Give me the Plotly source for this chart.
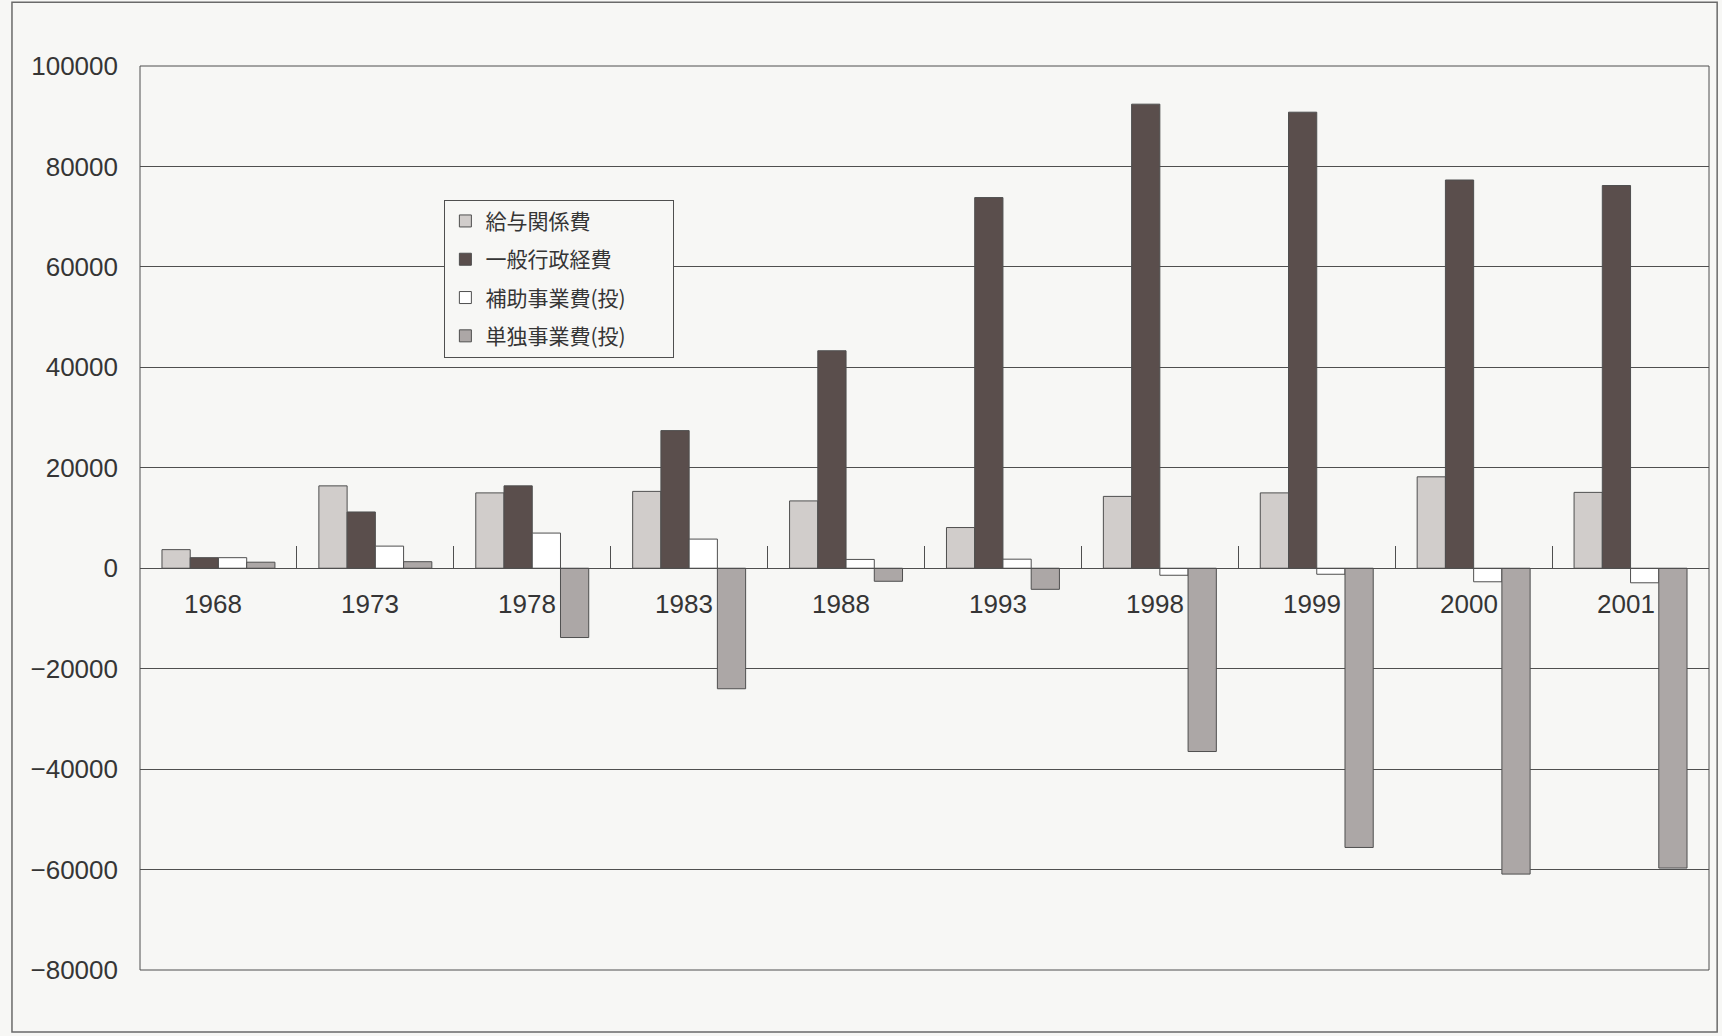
import plotly.graph_objects as go

# ---- data ----
years = ["1968", "1973", "1978", "1983", "1988", "1993", "1998", "1999", "2000", "2001"]
kyuyo = [3700, 16400, 15000, 15300, 13400, 8100, 14300, 15000, 18200, 15100]          # 給与関係費
ippan = [2100, 11200, 16400, 27400, 43300, 73800, 92400, 90800, 77300, 76200]         # 一般行政経費
hojo = [2100, 4400, 7000, 5800, 1750, 1800, -1400, -1200, -2700, -2900]               # 補助事業費(投)
tandoku = [1200, 1300, -13800, -24000, -2600, -4200, -36500, -55600, -60900, -59700]  # 単独事業費(投)

series_names = ["給与関係費", "一般行政経費", "補助事業費(投)", "単独事業費(投)"]
y_ticks = [-80000, -60000, -40000, -20000, 0, 20000, 40000, 60000, 80000, 100000]

BG = "#f7f7f5"
EDGE = "#4f4f4f"
TXT = "#353535"
colors = ["#d1cdcb", "#5a4e4c", "#ffffff", "#aca7a6"]
PAD = "\u3000\u3000"  # invisible trailing room so the legend box is as wide as the original

fig = go.Figure()
for i, (name, vals) in enumerate(zip(series_names, [kyuyo, ippan, hojo, tandoku])):
    fig.add_trace(go.Bar(
        x=years, y=vals, name=name + PAD, legendgroup=f"g{i}",
        marker=dict(color=colors[i], line=dict(color=EDGE, width=1)),
    ))

ymin, ymax = -80000, 100000
zero_pos = (0 - ymin) / (ymax - ymin)

# category labels drawn above the bars, just under the zero line
# (category axis: position given by the category index)
annotations = [
    dict(x=idx, y=0, xref="x", yref="y", text=yr, showarrow=False,
         yanchor="middle", xanchor="center", yshift=-36, xshift=-5,
         font=dict(size=26, color=TXT, family="Liberation Sans, Arial, sans-serif"))
    for idx, yr in enumerate(years)
]

fig.update_layout(
    width=1722, height=1036,
    margin=dict(l=140, r=13, t=66, b=66),
    paper_bgcolor=BG, plot_bgcolor=BG,
    barmode="group", bargap=0.28, bargroupgap=0,
    font=dict(family="Liberation Sans, Arial, sans-serif", color=TXT),
    showlegend=True,
    legend=dict(
        x=0.194, y=0.852, xanchor="left", yanchor="top",
        bgcolor=BG, bordercolor=EDGE, borderwidth=1,
        font=dict(family="Noto Sans CJK JP", size=21, color=TXT),
        traceorder="grouped", tracegroupgap=8,
    ),
    xaxis=dict(
        type="category", anchor="free", position=zero_pos,
        range=[-0.5, len(years) - 0.5],
        showline=True, linecolor=EDGE, linewidth=1,
        ticks="inside", tickson="boundaries", ticklen=22, tickcolor=EDGE, tickwidth=1,
        showgrid=False, zeroline=False, showticklabels=False,
    ),
    yaxis=dict(
        range=[ymin, ymax], tickmode="array", tickvals=y_ticks,
        tickformat="d",
        showgrid=True, gridcolor=EDGE, gridwidth=1,
        zeroline=False, showline=False, ticks="",
        tickfont=dict(size=26, color=TXT),
        ticklabelstandoff=21,
    ),
    annotations=annotations,
    shapes=[
        dict(type="rect", xref="paper", yref="paper", x0=0, x1=1, y0=0, y1=1,
             line=dict(color=EDGE, width=1), layer="above"),
        dict(type="rect", xref="paper", yref="paper", x0=-0.0816, x1=1.0052,
             y0=-0.0686, y1=1.0705, line=dict(color="#6a6a6a", width=1.5), layer="below"),
    ],
)

fig.write_html("out.html")
